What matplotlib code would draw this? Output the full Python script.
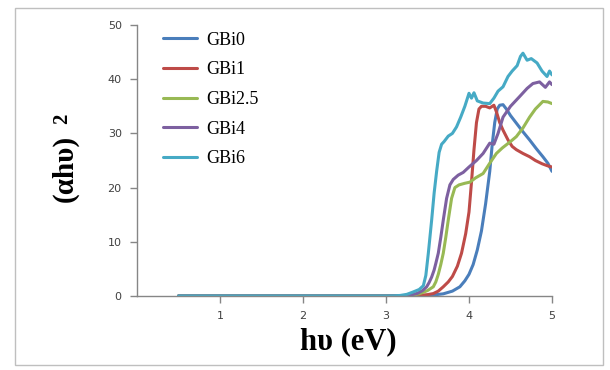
import matplotlib
matplotlib.use("Agg")
import matplotlib.pyplot as plt
from matplotlib.patches import Rectangle

# ---- data ----
labels = ["GBi0", "GBi1", "GBi2.5", "GBi4", "GBi6"]
colors = ["#4A7EBB", "#BE4B48", "#98B954", "#7D60A0", "#46AAC5"]

x_gbi0 = [0.5, 3.0, 3.4, 3.55, 3.69, 3.8, 3.89, 3.95, 4.0, 4.05, 4.1, 4.15, 4.2, 4.25, 4.28,
          4.31, 4.34, 4.37, 4.41, 4.45, 4.5, 4.57, 4.65, 4.73, 4.81, 4.89, 4.95, 5.0]
y_gbi0 = [0, 0, 0.05, 0.15, 0.4, 0.9, 1.7, 2.8, 4.0, 5.8, 8.5, 12, 17, 23, 28,
          32, 34.5, 35.2, 35.3, 34.5, 33.3, 31.9, 30.3, 28.8, 27.2, 25.7, 24.5, 23]

x_gbi1 = [0.5, 3.0, 3.3, 3.42, 3.5, 3.57, 3.63, 3.69, 3.75, 3.8, 3.86, 3.91, 3.96, 4.0, 4.03,
          4.06, 4.09, 4.12, 4.15, 4.2, 4.25, 4.3, 4.33, 4.37, 4.41, 4.47, 4.52, 4.57, 4.65,
          4.73, 4.8, 4.88, 4.95, 5.0]
y_gbi1 = [0, 0, 0.05, 0.15, 0.25, 0.45, 0.9, 1.7, 2.6, 3.6, 5.5, 7.9, 11.5, 15.5, 21,
          27, 32, 34.5, 35, 35, 34.7, 35.2, 34, 32, 30.6, 28.8, 27.6, 27, 26.3,
          25.7, 25, 24.4, 24, 23.8]

x_gbi25 = [0.5, 3.0, 3.2, 3.3, 3.4, 3.5, 3.57, 3.6, 3.63, 3.66, 3.69, 3.72, 3.75, 3.79, 3.83,
           3.88, 3.95, 4.01, 4.08, 4.17, 4.25, 4.33, 4.4, 4.5, 4.57, 4.65, 4.73, 4.8, 4.89,
           4.95, 5.0]
y_gbi25 = [0, 0, 0.03, 0.1, 0.4, 1.0, 1.7, 2.6, 4.0, 5.8, 7.9, 10.8, 14, 18, 20,
           20.5, 20.8, 21, 21.8, 22.6, 24.5, 26.3, 27.3, 28.5, 29.4, 31, 33, 34.5, 35.9,
           35.8, 35.5]

x_gbi4 = [0.5, 3.0, 3.2, 3.3, 3.38, 3.44, 3.49, 3.52, 3.55, 3.58, 3.6, 3.63, 3.66, 3.69, 3.73,
          3.77, 3.81, 3.87, 3.93, 4.0, 4.09, 4.17, 4.25, 4.3, 4.35, 4.41, 4.5, 4.61, 4.7,
          4.77, 4.85, 4.92, 4.97, 5.0]
y_gbi4 = [0, 0, 0.05, 0.2, 0.5, 1.0, 1.7, 2.5, 3.5, 4.8, 6.0, 7.9, 10.8, 14, 18,
          20.5, 21.5, 22.3, 22.8, 23.8, 25, 26.3, 28.2, 28, 30, 33, 35, 36.8, 38.3,
          39.2, 39.5, 38.5, 39.5, 39]

x_gbi6 = [0.5, 3.0, 3.1, 3.17, 3.25, 3.32, 3.4, 3.45, 3.48, 3.51, 3.55, 3.58, 3.61, 3.64, 3.67,
          3.7, 3.75, 3.8, 3.85, 3.9, 3.95, 4.0, 4.03, 4.06, 4.1, 4.17, 4.25, 4.3, 4.35, 4.41,
          4.47, 4.52, 4.58, 4.62, 4.65, 4.7, 4.75, 4.82, 4.88, 4.94, 4.97, 5.0]
y_gbi6 = [0, 0, 0.03, 0.1, 0.3, 0.7, 1.2, 1.9, 3.8, 7.9, 14, 19, 23, 26.5, 28,
          28.5, 29.5, 30, 31.2, 33, 35, 37.4, 36.5, 37.5, 36, 35.6, 35.5, 36.5, 37.8, 38.6,
          40.5, 41.5, 42.5, 44.2, 44.8, 43.5, 43.8, 43, 41.5, 40.5, 41.5, 40.8]

xs = [x_gbi0, x_gbi1, x_gbi25, x_gbi4, x_gbi6]
ys = [y_gbi0, y_gbi1, y_gbi25, y_gbi4, y_gbi6]

x_ticks = [1, 2, 3, 4, 5]
y_ticks = [0, 10, 20, 30, 40, 50]

# ---- figure ----
W, H = 610, 370
fig = plt.figure(figsize=(W / 100, H / 100), dpi=100)
fig.patch.set_facecolor("white")

# outer chart-area border
fig.patches.append(Rectangle((15 / W, 5 / H), 588 / W, 357 / H, transform=fig.transFigure,
                             fill=False, edgecolor="#BFBFBF", linewidth=1.0))

ax = fig.add_axes([137 / W, 74 / H, 415 / W, 271 / H])
for x, y, c, lab in zip(xs, ys, colors, labels):
    ax.plot(x, y, color=c, linewidth=2.2, label=lab, solid_capstyle="round",
            solid_joinstyle="round")

ax.set_xlim(0, 5)
ax.set_ylim(0, 50)
ax.set_xticks(x_ticks)
ax.set_yticks(y_ticks)
for s in ["top", "right"]:
    ax.spines[s].set_visible(False)
for s in ["left", "bottom"]:
    ax.spines[s].set_color("#868686")
    ax.spines[s].set_linewidth(1.0)
ax.tick_params(axis="both", direction="out", length=5, width=1, color="#868686",
               labelsize=8, labelcolor="#404040", pad=6)

leg = ax.legend(loc="upper left", bbox_to_anchor=(10 / 415, 1.035), frameon=False,
                prop={"family": "Liberation Serif", "size": 13},
                handlelength=1.85, handletextpad=0.55, labelspacing=0.70)

fig.text(348 / W, 1 - 342 / H, "hυ (eV)", ha="center", va="center",
         fontsize=22, fontweight="bold", family="Liberation Serif")
fig.text(65 / W, 1 - 168 / H, "(αhυ)", ha="center", va="center", rotation=90,
         fontsize=21, fontweight="bold", family="Liberation Serif")
fig.text(62 / W, 1 - 119 / H, "2", ha="center", va="center", rotation=90,
         fontsize=15, fontweight="bold", family="Liberation Serif")

fig.savefig("out.png", dpi=100, facecolor="white")
